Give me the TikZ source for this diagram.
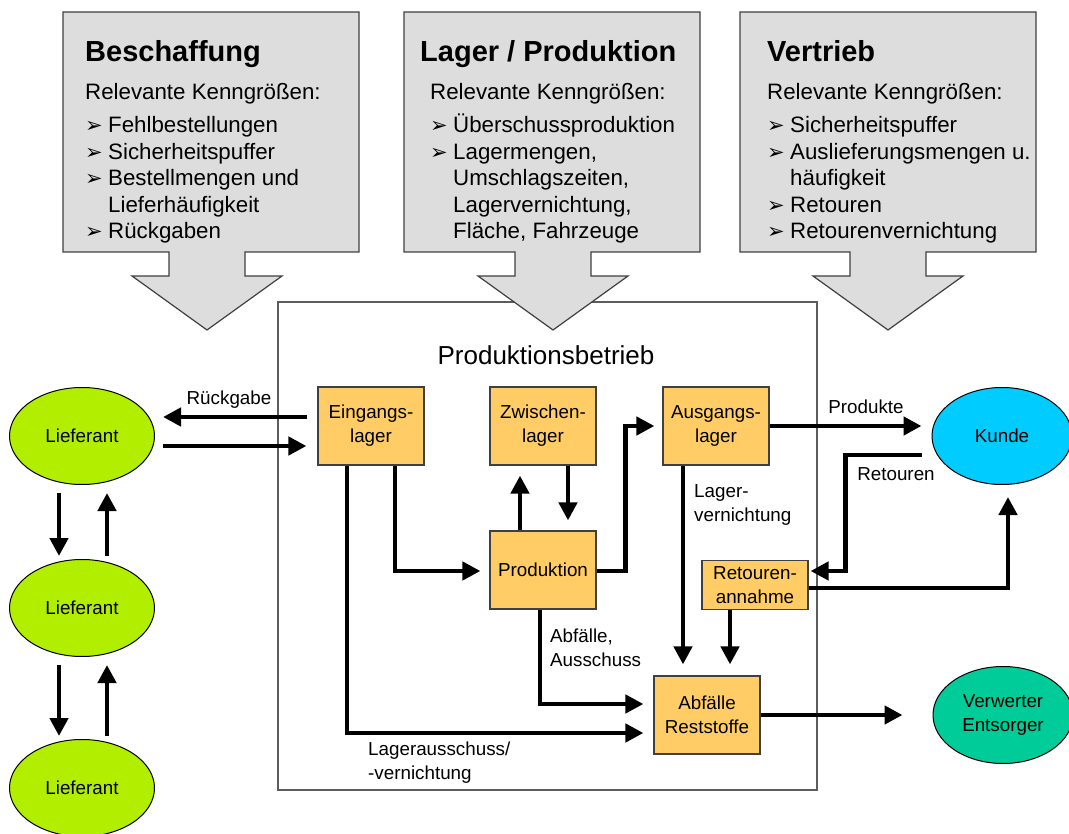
\documentclass[tikz,border=0pt]{standalone}
\usepackage{fontspec}
\setmainfont{Liberation Sans}
\newfontfamily\symfont{DejaVu Sans}
\usetikzlibrary{arrows.meta,positioning,calc,shapes.geometric}

\definecolor{lagergelb}{RGB}{255,204,102}
\definecolor{kastengrau}{RGB}{221,221,221}
\definecolor{randgrau}{RGB}{64,64,64}
\definecolor{lieferantgruen}{RGB}{178,238,0}
\definecolor{kundenblau}{RGB}{0,204,255}
\definecolor{entsorgergruen}{RGB}{0,204,153}

\newcommand{\bul}{\makebox[23pt][l]{\symfont\fontsize{21}{21}\selectfont ➢}}
\newcommand{\ein}{\hspace*{23pt}}

\begin{document}
\begin{tikzpicture}[x=1pt, y=-1pt,
					every node/.style={font=\fontsize{18.8}{24}\selectfont},
					lager/.style={draw=randgrau, fill=lagergelb, line width=1.2pt, minimum width=106pt, minimum height=78pt, align=center, inner sep=0pt},
					partner/.style={draw, ellipse, line width=1pt, minimum width=145pt, minimum height=97pt, align=center, inner sep=0pt},
					pfeil/.style={line width=4.5pt, -{Triangle[length=18pt,width=18pt]}},
					beschriftung/.style={align=left, inner sep=0pt},
					kasten/.style={draw=randgrau, fill=kastengrau, line width=1.2pt},
					titel/.style={anchor=base west, inner sep=0pt, font=\fontsize{29}{34}\selectfont\bfseries},
					zeile/.style={anchor=base west, inner sep=0pt, font=\fontsize{22.3}{26.5}\selectfont}]
				\useasboundingbox (0,0) rectangle (1069,834);
				% Produktionsbetrieb
				\node[draw=randgrau!85, line width=1.2pt, minimum width=539pt, minimum height=488pt, inner sep=0pt] (betrieb) at (547.5,546) {};
				\node[font=\fontsize{26}{30}\selectfont] (betriebtitel) at (546,355) {Produktionsbetrieb};
				% Kenngroessen
				\foreach \l/\m in {63/207, 404/553, 740/888}
					\draw[kasten] (\l,12) -- ++(296,0) -- ++(0,240) -- (\m+38,252) -- (\m+38,276) -- (\m+75,276) -- (\m,330)
						-- (\m-75,276) -- (\m-38,276) -- (\m-38,252) -- (\l,252) -- cycle;
				\node[titel] (beschaffung) at (85,62) {Beschaffung};
				\node[zeile] at (85,100) {Relevante Kenngrößen:};
				\foreach \zeile [count=\i] in {{\bul Fehlbestellungen},{\bul Sicherheitspuffer},{\bul Bestellmengen und},{\ein Lieferhäufigkeit},{\bul Rückgaben}}
					\node[zeile] at (85,{106.5+26.5*\i}) {\zeile};
				\node[titel] (lagerprod) at (420,62) {Lager / Produktion};
				\node[zeile] at (430,100) {Relevante Kenngrößen:};
				\foreach \zeile [count=\i] in {{\bul Überschussproduktion},{\bul Lagermengen,},{\ein Umschlagszeiten,},{\ein Lagervernichtung,},{\ein Fläche, Fahrzeuge}}
					\node[zeile] at (430,{106.5+26.5*\i}) {\zeile};
				\node[titel] (vertrieb) at (767,62) {Vertrieb};
				\node[zeile] at (767,100) {Relevante Kenngrößen:};
				\foreach \zeile [count=\i] in {{\bul Sicherheitspuffer},{\bul Auslieferungsmengen u.},{\ein häufigkeit},{\bul Retouren},{\bul Retourenvernichtung}}
					\node[zeile] at (767,{106.5+26.5*\i}) {\zeile};
				% Partner
				\node[partner, fill=lieferantgruen] (lief1) at (82,436) {Lieferant};
				\node[partner, fill=lieferantgruen] (lief2) at (82,608) {Lieferant};
				\node[partner, fill=lieferantgruen] (lief3) at (82,788) {Lieferant};
				\node[partner, fill=kundenblau, minimum width=140pt] (kunde) at (1002,436) {Kunde};
				\node[partner, fill=entsorgergruen, minimum width=140pt] (verwerter) at (1003,715) {Verwerter\\Entsorger};
				% Lager
				\node[lager] (eingang) at (371,426) {Eingangs-\\lager};
				\node[lager] (zwischen) at (543,426) {Zwischen-\\lager};
				\node[lager] (ausgang) at (716,426) {Ausgangs-\\lager};
				\node[lager] (produktion) at (543,570) {Produktion};
				\node[lager, minimum height=49pt] (retoure) at (755,585) {Retouren-\\annahme};
				\node[lager] (abfall) at (707,715) {Abfälle\\Reststoffe};
				% Beschriftungen
				\node[beschriftung] (rueckgabe) at (229,400) {Rückgabe};
				\node[beschriftung] (produkte) at (866,407) {Produkte};
				\node[beschriftung] (retouren) at (896,474) {Retouren};
				\node[beschriftung, anchor=west] (lagervern) at (694,505) {Lager-\\vernichtung};
				\node[beschriftung, anchor=west] (ausschuss) at (550,648) {Abfälle,\\Ausschuss};
				\node[beschriftung, anchor=west] (lagerausschuss) at (368,763) {Lagerausschuss/\\-vernichtung};
				% Pfeile
				\draw[pfeil] ($(eingang.west)+(-10,-9)$) -- ($(lief1.east)+(8,-19)$);
				\draw[pfeil] ($(lief1.east)+(8,10)$) -- ($(eingang.west)+(-11,20)$);
				\foreach \a/\b in {lief1/lief2, lief2/lief3} {
					\draw[pfeil] ($(\a.south)+(-23,8)$) -- ($(\b.north)+(-23,-3)$);
					\draw[pfeil] ($(\b.north)+(25,-3)$) -- ($(\a.south)+(25,8)$);
				}
				\draw[pfeil] ($(eingang.south)+(24,0)$) |- ($(produktion.west)+(-9,1)$);
				\draw[pfeil] ($(eingang.south)+(-24,0)$) |- ($(abfall.west)+(-10,18)$);
				\draw[pfeil] ($(produktion.south)+(-3,0)$) |- ($(abfall.west)+(-10,-11)$);
				\draw[pfeil] ($(produktion.north)+(-23,0)$) -- ($(zwischen.south)+(-23,10)$);
				\draw[pfeil] ($(zwischen.south)+(25,0)$) -- ($(produktion.north)+(25,-10)$);
				\draw[pfeil] ($(produktion.east)+(0,1)$) -- ++(29,0) |- ($(ausgang.west)+(-8,0)$);
				\draw[pfeil] ($(ausgang.south)+(-33,0)$) -- ($(abfall.north)+(-24,-11)$);
				\draw[pfeil] ($(retoure.south)+(-25,0)$) -- ($(abfall.north)+(23,-11)$);
				\draw[pfeil] (abfall.east) -- ($(verwerter.west)+(-30,0)$);
				\draw[pfeil, shorten >=10pt] (ausgang.east) -- (ausgang.east -| kunde.west);
				\draw[pfeil] ($(kunde.west)+(-10,19)$) -- ++(-76,0) |- ($(retoure.east)+(2,-14)$);
				\draw[pfeil] ($(retoure.east)+(0,3)$) -| ($(kunde.south)+(6,12)$);
			\end{tikzpicture}
\end{document}
